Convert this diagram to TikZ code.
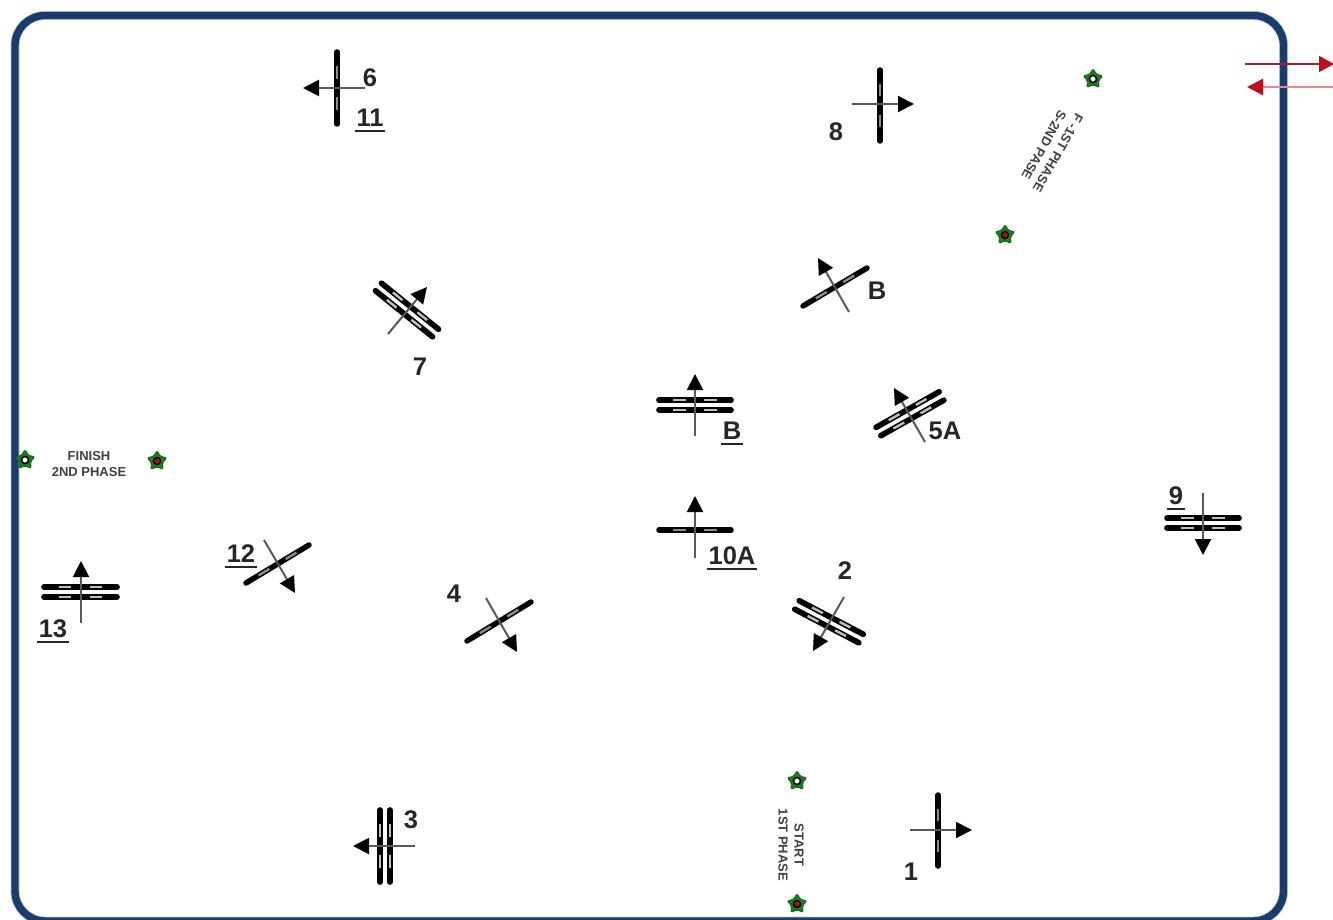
\documentclass[tikz,border=0pt]{standalone}
\usepackage{fontspec}
\setmainfont{Liberation Sans}
\usetikzlibrary{arrows.meta,calc,shapes.geometric}
\definecolor{framenavy}{HTML}{1B3B6A}
\definecolor{frameedge}{HTML}{B9C9DE}
\definecolor{flaggreen}{HTML}{1C7D20}
\definecolor{exitred}{HTML}{C00D1E}
\definecolor{exitline}{HTML}{A3212E}
\definecolor{entryline}{HTML}{E58A92}
\tikzset{
  x=1pt,y=-1pt,
  barline/.style={line width=5.5pt,black,line cap=round},
  barwide/.style={line width=5.7pt,black,line cap=round},
  lane/.style={line width=2.4pt,#1},
  flow/.style={line width=2pt,draw=black!65,-{Triangle[length=16pt,width=16pt,color=black]}},
  num/.style={font=\fontsize{25.5}{28}\selectfont\bfseries,inner sep=0pt,text=black!85},
  small/.style={font=\fontsize{13}{16}\selectfont\bfseries,inner sep=0pt,align=center,text=black!75},
  flag/.style={star,star points=5,star point ratio=1.8,minimum size=21pt,inner sep=0pt,fill=flaggreen,draw=flaggreen!80!black,line width=.8pt,rounded corners=1.5pt},
  startdot/.style={circle,minimum size=7pt,inner sep=0pt,fill=white,draw=black,line width=1.6pt},
  enddot/.style={circle,minimum size=7pt,inner sep=0pt,fill=red!80!black,draw=black,line width=1.4pt},
}
\newcommand{\ul}[1]{\setbox0=\hbox{#1}\hbox{\copy0\kern-\wd0\kern-2pt\smash{\raisebox{-5pt}{\rule{\dimexpr\wd0+4pt\relax}{1.7pt}}}\kern-2pt}}
\newcommand{\lanemarks}[3]{% start, end, colour
  \draw[lane=#3] ($(#1)!.20!(#2)$) -- ($(#1)!.37!(#2)$);
  \draw[lane=#3] ($(#1)!.63!(#2)$) -- ($(#1)!.80!(#2)$);
}
\newcommand{\singlegate}[5]{% name, end a, end b, tail, head
  \coordinate (#1-a) at (#2);
  \coordinate (#1-b) at (#3);
  \coordinate (#1-t) at (#4);
  \coordinate (#1-h) at (#5);
  \draw[barline] (#1-a) -- (#1-b);
  \lanemarks{#1-a}{#1-b}{black!45}
  \draw[flow] (#1-t) -- (#1-h);
}
\newcommand{\doublegate}[5]{% name, end a, end b, tail, head
  \coordinate (#1-a) at (#2);
  \coordinate (#1-b) at (#3);
  \coordinate (#1-t) at (#4);
  \coordinate (#1-h) at (#5);
  \coordinate (#1-a1) at ($(#1-a)!4.8pt!90:(#1-b)$);
  \coordinate (#1-b1) at ($(#1-b)!4.8pt!-90:(#1-a)$);
  \coordinate (#1-a2) at ($(#1-a)!4.8pt!-90:(#1-b)$);
  \coordinate (#1-b2) at ($(#1-b)!4.8pt!90:(#1-a)$);
  \draw[barwide] (#1-a1) -- (#1-b1);
  \draw[barwide] (#1-a2) -- (#1-b2);
  \lanemarks{#1-a1}{#1-b1}{black!25}
  \lanemarks{#1-a2}{#1-b2}{black!25}
  \draw[flow] (#1-t) -- (#1-h);
}
\begin{document}
\begin{tikzpicture}
\useasboundingbox (0,0) rectangle (1333,920);
\clip (0,0) rectangle (1333,920);
\fill[white] (0,0) rectangle (1333,920);
% frame
\draw[frameedge,line width=9pt,rounded corners=30pt] (15,15.5) rectangle (1283.5,921);
\draw[framenavy,line width=7.4pt,rounded corners=30pt] (15,15.5) rectangle (1283.5,921);
% exit and entry arrows
\coordinate (exit-t) at (1245,64);
\coordinate (exit-h) at (1334,64);
\coordinate (entry-t) at (1333,87);
\coordinate (entry-h) at (1247,87);
\draw[line width=1.6pt,draw=exitline,-{Triangle[length=15pt,width=16pt,color=exitred]}] (exit-t) -- (exit-h);
\draw[line width=2.4pt,draw=entryline,-{Triangle[length=16pt,width=16pt,color=exitred]}] (entry-t) -- (entry-h);
% gates
\singlegate{g6}{337,52}{337,124}{365,88}{303,88}
\singlegate{g8}{880,70}{880,141}{852,104}{914,104}
\doublegate{g7}{378.5,287}{435.5,333}{388,334}{427,287}
\singlegate{gB}{803,306}{867,268}{849,312}{818,258}
\doublegate{gBb}{659,405}{731,405}{695,436}{695,374}
\doublegate{g5A}{878.5,431.5}{941.5,396}{925,442}{894,388}
\singlegate{g10A}{659,530}{731,530}{695,558}{695,496}
\doublegate{g9}{1167,523}{1239,523}{1203,493}{1203,555}
\singlegate{g12}{246,583}{309,545}{264,540}{295,593}
\singlegate{g4}{467,641}{531,602}{486,598}{517,652}
\doublegate{g2}{797,605}{861,638.5}{844,597}{813,651}
\doublegate{g13}{44,592}{117,592}{81,623}{81,561}
\doublegate{g3}{385,810}{385,882}{415,846}{353,846}
\singlegate{g1}{938,795}{938,866}{910,830}{972,830}
% labels
\node[num] (t6) at (370,78) {6};
\node[num] (t11) at (370,118) {\ul{11}};
\node[num] (t8) at (836,132) {8};
\node[num] (t7) at (420,367) {7};
\node[num] (tB) at (877,291) {B};
\node[num] (tBb) at (732,431) {\ul{B}};
\node[num] (t5A) at (945,431) {5A};
\node[num] (t10A) at (732,556) {\ul{10A}};
\node[num] (t9) at (1176,496) {\ul{9}};
\node[num] (t12) at (241,554) {\ul{12}};
\node[num] (t4) at (454,594) {4};
\node[num] (t2) at (845,571) {2};
\node[num] (t13) at (53,629) {\ul{13}};
\node[num] (t3) at (411,820) {3};
\node[num] (t1) at (911,872) {1};
% phase captions
\node[small] (finish) at (89,464) {FINISH\\2ND PHASE};
\node[small,rotate=-90] (start) at (791,845) {START\\1ST PHASE};
\node[small,rotate=240.5] (fs) at (1051,149) {F -1ST PHASE\\S-2ND PASE};
% flags
\node[flag] (f1) at (1093,79) {}; \node[startdot] (f1c) at (f1) {};
\node[flag] (f2) at (1005,235) {}; \node[enddot] (f2c) at (f2) {};
\node[flag] (f3) at (25,460) {}; \node[startdot] (f3c) at (f3) {};
\node[flag] (f4) at (157,461) {}; \node[enddot] (f4c) at (f4) {};
\node[flag] (f5) at (797,781) {}; \node[startdot] (f5c) at (f5) {};
\node[flag] (f6) at (797,904) {}; \node[enddot] (f6c) at (f6) {};
\end{tikzpicture}
\end{document}
